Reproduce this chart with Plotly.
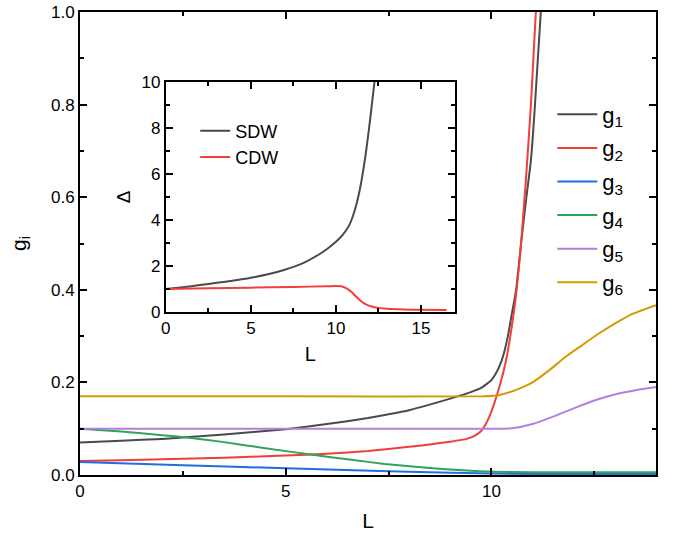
import plotly.graph_objects as go

# main panel: couplings g_i versus L
L_g1 = [0, 1, 2, 3, 4, 5, 6, 7, 7.5, 8, 8.5, 9, 9.5, 9.75, 10, 10.1, 10.2, 10.3, 10.4, 10.5, 10.6, 10.72, 10.85, 10.96, 11.04, 11.2]
g1 = [0.070, 0.074, 0.078, 0.084, 0.091, 0.099, 0.110, 0.123, 0.131, 0.140, 0.152, 0.165, 0.179, 0.188, 0.205, 0.218, 0.236, 0.262, 0.300, 0.350, 0.400, 0.500, 0.600, 0.680, 0.774, 1.0]

L_g2 = [0, 1, 2, 3, 4, 5, 6, 7, 8, 8.5, 9, 9.4, 9.6, 9.75, 9.85, 9.95, 10.05, 10.2, 10.35, 10.45, 10.6, 10.72, 10.84, 10.96, 11.08]
g2 = [0.030, 0.032, 0.034, 0.036, 0.039, 0.042, 0.046, 0.052, 0.061, 0.066, 0.072, 0.078, 0.085, 0.095, 0.108, 0.126, 0.150, 0.192, 0.245, 0.295, 0.390, 0.500, 0.640, 0.800, 1.0]

L_g3 = [0, 2.5, 5, 7.5, 10, 12, 14]
g3 = [0.028, 0.021, 0.0145, 0.008, 0.003, 0.002, 0.002]

L_g4 = [0, 1, 2, 2.6, 3.5, 4.5, 5.7, 6.5, 7.4, 8.5, 9.3, 10, 11, 12, 14]
g4 = [0.100, 0.094, 0.086, 0.081, 0.071, 0.058, 0.043, 0.034, 0.024, 0.015, 0.010, 0.007, 0.006, 0.006, 0.006]

L_g5 = [0, 5, 10, 10.5, 11, 11.5, 12, 12.5, 13, 13.5, 14]
g5 = [0.100, 0.100, 0.100, 0.101, 0.110, 0.126, 0.144, 0.161, 0.174, 0.183, 0.190]

L_g6 = [0, 5, 9.8, 10.2, 10.6, 11.0, 11.4, 11.8, 12.2, 12.6, 13.0, 13.4, 14]
g6 = [0.170, 0.170, 0.170, 0.173, 0.184, 0.200, 0.226, 0.255, 0.280, 0.305, 0.327, 0.347, 0.367]

# inset: gap Delta versus L
L_sdw = [0, 1, 2, 3, 4, 5, 6, 7, 8, 9, 9.5, 10, 10.4, 10.8, 11.1, 11.4, 11.7, 12, 12.3]
sdw = [1.0, 1.08, 1.17, 1.27, 1.37, 1.49, 1.64, 1.84, 2.1, 2.5, 2.75, 3.05, 3.35, 3.8, 4.4, 5.3, 6.6, 8.3, 10.2]

L_cdw = [0, 2.5, 5, 7.5, 9.5, 10, 10.3, 10.6, 10.9, 11.2, 11.5, 11.8, 12.1, 12.5, 13, 14, 15, 16.5]
cdw = [1.0, 1.03, 1.06, 1.09, 1.12, 1.13, 1.12, 1.04, 0.88, 0.66, 0.46, 0.32, 0.24, 0.18, 0.14, 0.11, 0.10, 0.09]

g_names = ['g<sub>1</sub>', 'g<sub>2</sub>', 'g<sub>3</sub>', 'g<sub>4</sub>', 'g<sub>5</sub>', 'g<sub>6</sub>']
g_colors = ['#4a4a4a', '#f23d3d', '#1f6fe0', '#2ea35a', '#b47fe0', '#d49b00']

fig = go.Figure()

series = [(L_g1, g1), (L_g2, g2), (L_g3, g3), (L_g4, g4), (L_g5, g5), (L_g6, g6)]
for i, (xs, ys) in enumerate(series):
    fig.add_trace(go.Scatter(x=xs, y=ys, mode='lines', name=g_names[i],
                             line=dict(color=g_colors[i], width=2, shape='spline', smoothing=0.5),
                             legendgroup=f'g{i}', legend='legend',
                             xaxis='x', yaxis='y'))

fig.add_trace(go.Scatter(x=L_sdw, y=sdw, mode='lines', name='SDW',
                         line=dict(color='#4a4a4a', width=2, shape='spline', smoothing=0.6),
                         legend='legend2', xaxis='x2', yaxis='y2'))
fig.add_trace(go.Scatter(x=L_cdw, y=cdw, mode='lines', name='CDW',
                         line=dict(color='#f23d3d', width=2, shape='spline', smoothing=0.6),
                         legend='legend2', xaxis='x2', yaxis='y2'))

axis_common = dict(showline=True, linecolor='black', linewidth=2, mirror='allticks',
                   ticks='inside', ticklen=7, tickwidth=1.5, tickcolor='black',
                   showgrid=False, zeroline=False, automargin=False,
                   tickfont=dict(size=17, color='black'))

fig.update_layout(
    width=674, height=545,
    margin=dict(l=80, r=18, t=12, b=70),
    paper_bgcolor='white', plot_bgcolor='white',
    font=dict(family='Liberation Sans, Arial, sans-serif', color='black'),
    xaxis=dict(range=[0, 14], dtick=5, domain=[0, 1],
               minor=dict(dtick=2.5, ticks='inside', ticklen=4, tickcolor='black'),
               title=dict(text='L', font=dict(size=21), standoff=13),
               **axis_common),
    yaxis=dict(range=[0, 1.0], dtick=0.2, tickformat='.1f', domain=[0, 1],
               minor=dict(dtick=0.1, ticks='inside', ticklen=4, tickcolor='black'),
               title=dict(text='g<sub>i</sub>', font=dict(size=21), standoff=19),
               **axis_common),
    xaxis2=dict(range=[0, 17], dtick=5, domain=[0.149, 0.651], anchor='y2',
                minor=dict(dtick=2.5, ticks='inside', ticklen=4, tickcolor='black'),
                title=dict(text='L', font=dict(size=20), standoff=10),
                **axis_common),
    yaxis2=dict(range=[0, 10], dtick=2, domain=[0.352, 0.849], anchor='x2',
                minor=dict(dtick=1, ticks='inside', ticklen=4, tickcolor='black'),
                title=dict(text='Δ', font=dict(size=19), standoff=6),
                **axis_common),
    legend=dict(x=0.82, y=0.824, xanchor='left', yanchor='top',
                bgcolor='rgba(0,0,0,0)', font=dict(size=22),
                tracegroupgap=2, itemwidth=40),
    legend2=dict(x=0.2, y=0.783, xanchor='left', yanchor='top',
                 bgcolor='rgba(0,0,0,0)', font=dict(size=18),
                 itemwidth=30),
)

# drop the default page margin so the figure fills the window
fig.write_html("out.html", config={'displayModeBar': False},
               post_script="document.body.style.margin='0';")
